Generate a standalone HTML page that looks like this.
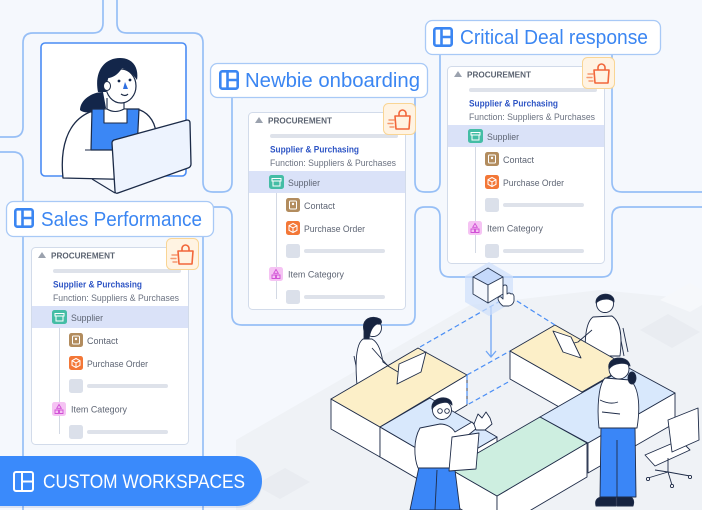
<!DOCTYPE html>
<html><head><meta charset="utf-8">
<style>
html,body{margin:0;padding:0;background:#f5f8fd;}
svg{display:block;}
text{font-family:"Liberation Sans",sans-serif;}
</style></head>
<body>
<svg width="702" height="510" viewBox="0 0 702 510" xmlns="http://www.w3.org/2000/svg">
<rect width="702" height="510" fill="#f5f8fd"/>

<!-- floor -->
<polygon points="236,440 470,305 600,290 702,300 702,510 236,510" fill="#eff2f6"/>
<polygon points="640,330 668,314 700,332 672,348" fill="#e9ecf1"/>
<polygon points="660,300 690,283 702,290 702,305 690,312" fill="#f6f8fb"/>
<polygon points="255,485 285,468 310,482 280,499" fill="#e9ecf1"/>

<!-- block lines -->
<g fill="none" stroke="#97bff6" stroke-width="1.7">
<path d="M0,137 H13 Q23,137 23,127 V43 Q23,33 33,33 H93 Q103,33 103,23 V0"/>
<path d="M117,0 V23 Q117,33 127,33 H193 Q203,33 203,43 V182 Q203,192 213,192 H222 Q232,192 232,182 V97"/>
<path d="M415,97 V182 Q415,192 425,192 H430 Q440,192 440,182 V54"/>
<path d="M612,54 V182 Q612,192 622,192 H702"/>
<path d="M702,207 H622 Q612,207 612,217 V267 Q612,277 602,277 H450 Q440,277 440,267 V217 Q440,207 430,207 H425 Q415,207 415,217 V315 Q415,325 405,325 H242 Q232,325 232,315 V217 Q232,207 222,207 H213 Q203,207 203,217 V510"/>
<path d="M0,152 H13 Q23,152 23,162 V510"/>
</g>

<!-- woman frame -->
<rect x="41" y="43" width="145" height="133" rx="4" fill="#fff" stroke="#4a8cf4" stroke-width="1.6"/>
<g stroke="#1b2a47" stroke-linejoin="round">
<path d="M103,92 C92,92 80,100 80,110 C84,114 96,113 106,108 Z" fill="#13264a" stroke="none"/>
<path d="M63,178 C60,150 66,122 90,112 L140,110 C150,114 156,124 156,135 L150,180 Z" fill="#fff" stroke-width="1.3"/>
<path d="M92,109 L139,109 L137,150 L91,150 Z" fill="#3b87f5" stroke-width="1.2"/>
<path d="M104,109 h23 v14 h-23z" fill="#fff" stroke-width="1.1"/>
<path d="M107,98 v11 q8,5 17,0 v-11" fill="#fff" stroke-width="1.1"/>
<ellipse cx="121" cy="86" rx="15" ry="17" fill="#fff" stroke-width="1.2"/>
<path d="M98,92 C94,72 104,58 120,58 C133,58 139,68 137,80 C133,74 128,70 122,68 C118,75 112,78 108,78 L106,92 Z" fill="#13264a" stroke="none"/>
<ellipse cx="107" cy="86" rx="3.5" ry="4.5" fill="#fff" stroke-width="1"/>
<circle cx="119" cy="81" r="1.4" fill="#13264a" stroke="none"/>
<circle cx="130" cy="80" r="1.4" fill="#13264a" stroke="none"/>
<path d="M125,82 l3,7 h-5z" fill="#2f6fe0" stroke="none"/>
<path d="M121,94 q4,3 7,0" fill="none" stroke-width="1.2"/>
<path d="M85,150 H112" fill="none" stroke-width="1.1"/>
<path d="M92,179 L115,193" fill="none" stroke-width="1.1"/>
<path d="M114,140 L187,120 Q190,120 190,123 L191,164 Q191,167 188,168 L118,193 Q115,194 115,191 L112,143 Q112,141 114,140Z" fill="#edf3fe" stroke-width="1.3"/>
</g>

<!-- ===== Sales Performance card ===== -->
<g transform="translate(31,247)">
 <rect x="0.5" y="0.5" width="157" height="197" rx="4" fill="#fff" stroke="#d2dbea"/>
 <path d="M7,11 L11,5 L15,11 Z" fill="#9ba2ae"/>
 <text x="20" y="11.5" font-size="8.3" font-weight="700" fill="#5b6371" textLength="64" lengthAdjust="spacingAndGlyphs">PROCUREMENT</text>
 <rect x="22" y="22" width="128" height="4" rx="2" fill="#dee2ea"/>
 <text x="22" y="40.5" font-size="8.8" font-weight="700" fill="#2e55c5" textLength="89" lengthAdjust="spacingAndGlyphs">Supplier &amp; Purchasing</text>
 <text x="22" y="54" font-size="8.8" fill="#6b7281" textLength="126" lengthAdjust="spacingAndGlyphs">Function: Suppliers &amp; Purchases</text>
 <rect x="1" y="59" width="156" height="22" fill="#dae2f8"/>
 <line x1="28.5" y1="81" x2="28.5" y2="187" stroke="#d3d9e4"/>
 <rect x="21" y="63" width="15" height="14" rx="2.5" fill="#44bda5"/>
 <path d="M24,66.5h9v2.5h-9z M25,69v5h7v-5" fill="none" stroke="#fff" stroke-width="1"/>
 <text x="40" y="74" font-size="9" fill="#5e6574" textLength="32" lengthAdjust="spacingAndGlyphs">Supplier</text>
 <rect x="38" y="86" width="14" height="14" rx="2.5" fill="#b28c5e"/>
 <rect x="41.5" y="89" width="7" height="8" rx="1" fill="none" stroke="#fff" stroke-width="1"/>
 <circle cx="45" cy="92" r="1.2" fill="#fff"/>
 <text x="56" y="97" font-size="9" fill="#5e6574" textLength="31" lengthAdjust="spacingAndGlyphs">Contact</text>
 <rect x="38" y="109" width="14" height="14" rx="2.5" fill="#f37737"/>
 <path d="M45,111.5l4,2.2v4.6l-4,2.2l-4,-2.2v-4.6z M41,113.7l4,2.2l4,-2.2 M45,115.9v4.6" fill="none" stroke="#fff" stroke-width="1"/>
 <text x="56" y="120" font-size="9" fill="#5e6574" textLength="61" lengthAdjust="spacingAndGlyphs">Purchase Order</text>
 <rect x="38" y="132" width="14" height="14" rx="2.5" fill="#dbe0ea"/>
 <rect x="56" y="137" width="81" height="4" rx="2" fill="#dee2ea"/>
 <rect x="21" y="155" width="14" height="14" rx="2.5" fill="#f5c3f3"/>
 <path d="M28,157.5l2.3,3.8h-4.6z M24,163h3.5v3.5h-3.5z M28.5,163h3.5v3.5h-3.5z" fill="none" stroke="#d14fd6" stroke-width="0.9"/>
 <text x="40" y="165.5" font-size="9" fill="#5e6574" textLength="56" lengthAdjust="spacingAndGlyphs">Item Category</text>
 <rect x="38" y="178" width="14" height="14" rx="2.5" fill="#dbe0ea"/>
 <rect x="56" y="183" width="81" height="4" rx="2" fill="#dee2ea"/>
 <g transform="translate(135,-9)">
  <rect x="0.5" y="0.5" width="32" height="31" rx="5" fill="#fff3e2" stroke="#f9d594"/>
  <path d="M12,13 h15 l-1,13 h-13z" fill="none" stroke="#f2663a" stroke-width="1.6" stroke-linejoin="round"/>
  <path d="M16,13 v-2.5 a3.5,3.5 0 0 1 7,0 v2.5" fill="none" stroke="#f2663a" stroke-width="1.6"/>
  <path d="M6,17h5 M5,20.5h5 M7,24h4" stroke="#f6986f" stroke-width="1.4" stroke-linecap="round"/>
 </g>
</g>

<!-- ===== Newbie card ===== -->
<g transform="translate(248,112)">
 <rect x="0.5" y="0.5" width="157" height="197" rx="4" fill="#fff" stroke="#d2dbea"/>
 <path d="M7,11 L11,5 L15,11 Z" fill="#9ba2ae"/>
 <text x="20" y="11.5" font-size="8.3" font-weight="700" fill="#5b6371" textLength="64" lengthAdjust="spacingAndGlyphs">PROCUREMENT</text>
 <rect x="22" y="22" width="128" height="4" rx="2" fill="#dee2ea"/>
 <text x="22" y="40.5" font-size="8.8" font-weight="700" fill="#2e55c5" textLength="89" lengthAdjust="spacingAndGlyphs">Supplier &amp; Purchasing</text>
 <text x="22" y="54" font-size="8.8" fill="#6b7281" textLength="126" lengthAdjust="spacingAndGlyphs">Function: Suppliers &amp; Purchases</text>
 <rect x="1" y="59" width="156" height="22" fill="#dae2f8"/>
 <line x1="28.5" y1="81" x2="28.5" y2="187" stroke="#d3d9e4"/>
 <rect x="21" y="63" width="15" height="14" rx="2.5" fill="#44bda5"/>
 <path d="M24,66.5h9v2.5h-9z M25,69v5h7v-5" fill="none" stroke="#fff" stroke-width="1"/>
 <text x="40" y="74" font-size="9" fill="#5e6574" textLength="32" lengthAdjust="spacingAndGlyphs">Supplier</text>
 <rect x="38" y="86" width="14" height="14" rx="2.5" fill="#b28c5e"/>
 <rect x="41.5" y="89" width="7" height="8" rx="1" fill="none" stroke="#fff" stroke-width="1"/>
 <circle cx="45" cy="92" r="1.2" fill="#fff"/>
 <text x="56" y="97" font-size="9" fill="#5e6574" textLength="31" lengthAdjust="spacingAndGlyphs">Contact</text>
 <rect x="38" y="109" width="14" height="14" rx="2.5" fill="#f37737"/>
 <path d="M45,111.5l4,2.2v4.6l-4,2.2l-4,-2.2v-4.6z M41,113.7l4,2.2l4,-2.2 M45,115.9v4.6" fill="none" stroke="#fff" stroke-width="1"/>
 <text x="56" y="120" font-size="9" fill="#5e6574" textLength="61" lengthAdjust="spacingAndGlyphs">Purchase Order</text>
 <rect x="38" y="132" width="14" height="14" rx="2.5" fill="#dbe0ea"/>
 <rect x="56" y="137" width="81" height="4" rx="2" fill="#dee2ea"/>
 <rect x="21" y="155" width="14" height="14" rx="2.5" fill="#f5c3f3"/>
 <path d="M28,157.5l2.3,3.8h-4.6z M24,163h3.5v3.5h-3.5z M28.5,163h3.5v3.5h-3.5z" fill="none" stroke="#d14fd6" stroke-width="0.9"/>
 <text x="40" y="165.5" font-size="9" fill="#5e6574" textLength="56" lengthAdjust="spacingAndGlyphs">Item Category</text>
 <rect x="38" y="178" width="14" height="14" rx="2.5" fill="#dbe0ea"/>
 <rect x="56" y="183" width="81" height="4" rx="2" fill="#dee2ea"/>
 <g transform="translate(135,-9)">
  <rect x="0.5" y="0.5" width="32" height="31" rx="5" fill="#fff3e2" stroke="#f9d594"/>
  <path d="M12,13 h15 l-1,13 h-13z" fill="none" stroke="#f2663a" stroke-width="1.6" stroke-linejoin="round"/>
  <path d="M16,13 v-2.5 a3.5,3.5 0 0 1 7,0 v2.5" fill="none" stroke="#f2663a" stroke-width="1.6"/>
  <path d="M6,17h5 M5,20.5h5 M7,24h4" stroke="#f6986f" stroke-width="1.4" stroke-linecap="round"/>
 </g>
</g>

<!-- ===== Critical card ===== -->
<g transform="translate(447,66)">
 <rect x="0.5" y="0.5" width="157" height="197" rx="4" fill="#fff" stroke="#d2dbea"/>
 <path d="M7,11 L11,5 L15,11 Z" fill="#9ba2ae"/>
 <text x="20" y="11.5" font-size="8.3" font-weight="700" fill="#5b6371" textLength="64" lengthAdjust="spacingAndGlyphs">PROCUREMENT</text>
 <rect x="22" y="22" width="128" height="4" rx="2" fill="#dee2ea"/>
 <text x="22" y="40.5" font-size="8.8" font-weight="700" fill="#2e55c5" textLength="89" lengthAdjust="spacingAndGlyphs">Supplier &amp; Purchasing</text>
 <text x="22" y="54" font-size="8.8" fill="#6b7281" textLength="126" lengthAdjust="spacingAndGlyphs">Function: Suppliers &amp; Purchases</text>
 <rect x="1" y="59" width="156" height="22" fill="#dae2f8"/>
 <line x1="28.5" y1="81" x2="28.5" y2="187" stroke="#d3d9e4"/>
 <rect x="21" y="63" width="15" height="14" rx="2.5" fill="#44bda5"/>
 <path d="M24,66.5h9v2.5h-9z M25,69v5h7v-5" fill="none" stroke="#fff" stroke-width="1"/>
 <text x="40" y="74" font-size="9" fill="#5e6574" textLength="32" lengthAdjust="spacingAndGlyphs">Supplier</text>
 <rect x="38" y="86" width="14" height="14" rx="2.5" fill="#b28c5e"/>
 <rect x="41.5" y="89" width="7" height="8" rx="1" fill="none" stroke="#fff" stroke-width="1"/>
 <circle cx="45" cy="92" r="1.2" fill="#fff"/>
 <text x="56" y="97" font-size="9" fill="#5e6574" textLength="31" lengthAdjust="spacingAndGlyphs">Contact</text>
 <rect x="38" y="109" width="14" height="14" rx="2.5" fill="#f37737"/>
 <path d="M45,111.5l4,2.2v4.6l-4,2.2l-4,-2.2v-4.6z M41,113.7l4,2.2l4,-2.2 M45,115.9v4.6" fill="none" stroke="#fff" stroke-width="1"/>
 <text x="56" y="120" font-size="9" fill="#5e6574" textLength="61" lengthAdjust="spacingAndGlyphs">Purchase Order</text>
 <rect x="38" y="132" width="14" height="14" rx="2.5" fill="#dbe0ea"/>
 <rect x="56" y="137" width="81" height="4" rx="2" fill="#dee2ea"/>
 <rect x="21" y="155" width="14" height="14" rx="2.5" fill="#f5c3f3"/>
 <path d="M28,157.5l2.3,3.8h-4.6z M24,163h3.5v3.5h-3.5z M28.5,163h3.5v3.5h-3.5z" fill="none" stroke="#d14fd6" stroke-width="0.9"/>
 <text x="40" y="165.5" font-size="9" fill="#5e6574" textLength="56" lengthAdjust="spacingAndGlyphs">Item Category</text>
 <rect x="38" y="178" width="14" height="14" rx="2.5" fill="#dbe0ea"/>
 <rect x="56" y="183" width="81" height="4" rx="2" fill="#dee2ea"/>
 <g transform="translate(135,-9)">
  <rect x="0.5" y="0.5" width="32" height="31" rx="5" fill="#fff3e2" stroke="#f9d594"/>
  <path d="M12,13 h15 l-1,13 h-13z" fill="none" stroke="#f2663a" stroke-width="1.6" stroke-linejoin="round"/>
  <path d="M16,13 v-2.5 a3.5,3.5 0 0 1 7,0 v2.5" fill="none" stroke="#f2663a" stroke-width="1.6"/>
  <path d="M6,17h5 M5,20.5h5 M7,24h4" stroke="#f6986f" stroke-width="1.4" stroke-linecap="round"/>
 </g>
</g>

<!-- ===== Labels ===== -->
<rect x="6.5" y="201.5" width="207" height="35" rx="7" fill="#fff" stroke="#a8c9f6" stroke-width="1.3"/>
<g transform="translate(14,208)" fill="none" stroke="#3b86f2" stroke-width="2.6"><rect x="1.3" y="1.3" width="17.4" height="17.4" rx="2"/><path d="M8.5,1.3v17.4 M8.5,10h10.2"/></g>
<text x="41" y="226" font-size="20" fill="#3b86f2" textLength="161" lengthAdjust="spacingAndGlyphs">Sales Performance</text>

<rect x="210.5" y="63.5" width="217" height="34" rx="7" fill="#fff" stroke="#a8c9f6" stroke-width="1.3"/>
<g transform="translate(219,70)" fill="none" stroke="#3b86f2" stroke-width="2.6"><rect x="1.3" y="1.3" width="17.4" height="17.4" rx="2"/><path d="M8.5,1.3v17.4 M8.5,10h10.2"/></g>
<text x="245" y="87" font-size="20" fill="#3b86f2" textLength="175" lengthAdjust="spacingAndGlyphs">Newbie onboarding</text>

<rect x="425.5" y="20.5" width="235" height="34" rx="7" fill="#fff" stroke="#a8c9f6" stroke-width="1.3"/>
<g transform="translate(433,27)" fill="none" stroke="#3b86f2" stroke-width="2.6"><rect x="1.3" y="1.3" width="17.4" height="17.4" rx="2"/><path d="M8.5,1.3v17.4 M8.5,10h10.2"/></g>
<text x="460" y="44" font-size="20" fill="#3b86f2" textLength="188" lengthAdjust="spacingAndGlyphs">Critical Deal response</text>

<!-- ===== Isometric scene ===== -->
<g stroke="#1f2c48" stroke-width="0.9" stroke-linejoin="round">
<!-- left sitting woman (behind desk) -->
<path d="M354,356 L359,380 M359,352 L364,378" fill="none"/>
<path d="M363,339 C356,344 355,362 357,385 L395,380 L394,370 L383,362 C381,352 379,343 372,339 Z" fill="#fff"/>
<circle cx="373" cy="328" r="8.5" fill="#fff"/>
<path d="M364,331 C361,318 372,315 380,319 C383,322 381,325 377,324 C373,326 370,331 369,339 L364,339 Z" fill="#16233f"/>
<!-- right sitting man (behind desk) -->
<path d="M619,330 L624,356 M623,328 L628,352" fill="none"/>
<path d="M593,317 C586,322 584,340 586,356 L620,356 C622,340 622,323 612,316 Z" fill="#fff"/>
<circle cx="605" cy="304" r="8.5" fill="#fff"/>
<path d="M596,303 C595,292 615,291 614,302 C610,298 601,298 596,303Z" fill="#16233f"/>

<!-- right yellow desk -->
<polygon points="510,351 582,392 582,420 510,379" fill="#fff"/>
<polygon points="582,392 627,366 627,394 582,420" fill="#fff"/>
<polygon points="510,351 555,325 627,366 582,392" fill="#fcefc8"/>
<!-- left yellow desk -->
<polygon points="331,399 380,427 380,457 331,429" fill="#fff"/>
<polygon points="380,427 467,375 467,405 380,457" fill="#fff"/>
<polygon points="331,399 418,348 467,375 380,427" fill="#fcefc8"/>
<!-- left blue -->
<polygon points="380,427 447,466 447,496 380,457" fill="#fff"/>
<polygon points="447,466 497,437 497,467 447,496" fill="#fff"/>
<polygon points="380,427 430,398 497,437 447,466" fill="#d8e8fc"/>
<!-- right blue -->
<polygon points="588,443 675,393 675,423 588,473" fill="#fff"/>
<polygon points="540,417 627,367 675,393 588,443" fill="#d8e8fc"/>
<!-- green -->
<polygon points="450,469 497,496 497,530 450,503" fill="#fff"/>
<polygon points="497,496 587,443 587,477 497,530" fill="#fff"/>
<polygon points="450,469 540,417 587,443 497,496" fill="#cdeee0"/>

<!-- laptops & arms -->
<path d="M372,348 L388,366 L398,372" fill="none"/>
<polygon points="399,364 426,352 421,372 397,384" fill="#fff"/>
<path d="M592,330 L578,342 L570,344" fill="none"/>
<polygon points="553,331 571,337 581,358 563,352" fill="#fff"/>
</g>

<!-- dashed ghost desk -->
<g stroke="#4a8ef5" stroke-width="1.2" stroke-dasharray="5 3" fill="none">
<path d="M420,347 L509,296 L555,325"/>
<path d="M467,375 L510,351"/>
<path d="M467,375 L467,405 L510,381"/>
</g>
<!-- arrow -->
<path d="M491,307 V356 M486,351 L491,357 L496,351" fill="none" stroke="#6fa6f5" stroke-width="1.3"/>
<!-- cube with glow -->
<polygon points="489,262 513,276 513,302 489,316 465,302 465,276" fill="#cfe0fb" opacity="0.7"/>
<g stroke="#2b3a55" stroke-width="0.9" stroke-linejoin="round">
<polygon points="488,268 503,277 488,285 473,277" fill="#c5d9fb"/>
<polygon points="473,277 488,285 488,303 473,294" fill="#f4f7fd"/>
<polygon points="488,285 503,277 503,294 488,303" fill="#fff"/>
<path d="M503,287 Q503,285 505,285 Q507,285 507,287 V294 Q509,292 511,294 Q513,293 514,296 L514,301 Q513,305 509,306 H503 Q499,303 498,299 Q498,296 501,297 L503,299 Z" fill="#fff"/>
</g>

<!-- standing woman -->
<g stroke="#1f2c48" stroke-width="0.9" stroke-linejoin="round">
<polygon points="601,426 635,426 636,497 600,497" fill="#3a86f7"/>
<path d="M617,440 L617,497" fill="none"/>
<path d="M596,506 Q594,498 602,497 L616,497 L616,506 Z" fill="#16233f"/>
<path d="M617,506 L617,497 L631,497 Q635,500 633,506 Z" fill="#16233f"/>
<path d="M605,378 C598,385 597,410 599,428 L637,428 C640,410 640,388 630,380 Z" fill="#fff"/>
<path d="M600,400 Q610,405 618,402 M602,412 L620,414" fill="none"/>
<ellipse cx="632" cy="378" rx="4" ry="6" fill="#16233f"/>
<circle cx="619" cy="369" r="10" fill="#fff"/>
<path d="M609,369 C606,356 628,354 630,366 C626,362 614,362 609,369Z" fill="#16233f"/>

<!-- front man -->
<polygon points="420,462 454,462 460,510 410,510" fill="#3a86f7"/>
<path d="M437,470 L435,510" fill="none"/>
<path d="M420,428 C413,440 414,458 418,468 L455,468 L462,440 L477,428 L472,422 L455,432 C452,427 446,424 440,424 Z" fill="#fff"/>
<path d="M474,424 L478,414 L482,418 L486,412 L490,418 L492,424 L485,430 L476,430 Z" fill="#fff"/>
<polygon points="452,437 479,433 476,469 449,471" fill="#fff"/>
<circle cx="442" cy="410" r="9.5" fill="#fff"/>
<path d="M432,409 C430,396 452,394 452,405 C448,401 438,401 432,409Z" fill="#16233f"/>
<circle cx="440" cy="411" r="2.3" fill="none"/>
<circle cx="447" cy="411" r="2.3" fill="none"/>

<!-- office chair -->
<path d="M645,455 L680,440 L690,450 L655,466 Z" fill="#fff"/>
<path d="M668,420 L698,408 L699,440 L672,452 Z" fill="#fff"/>
<path d="M668,458 V472 M668,472 L648,478 M668,472 L690,476 M668,472 L672,485 M668,472 L655,470" fill="none"/>
<circle cx="648" cy="479" r="1.6" fill="#fff"/>
<circle cx="690" cy="477" r="1.6" fill="#fff"/>
<circle cx="672" cy="486" r="1.6" fill="#fff"/>
</g>

<!-- button -->
<path d="M0,458 H237 A25,25 0 0 1 237,508 H0 Z" fill="#1f4fa8" opacity="0.12"/>
<path d="M0,456 H237 A25,25 0 0 1 237,506 H0 Z" fill="#3a8afb"/>
<g transform="translate(13,471)" fill="none" stroke="#fff" stroke-width="2"><rect x="1" y="1" width="19" height="19" rx="2"/><path d="M9,1v19 M9,10.5h11"/></g>
<text x="43" y="488" font-size="19" fill="#fff" textLength="202" lengthAdjust="spacingAndGlyphs">CUSTOM WORKSPACES</text>
</svg>
</body></html>
